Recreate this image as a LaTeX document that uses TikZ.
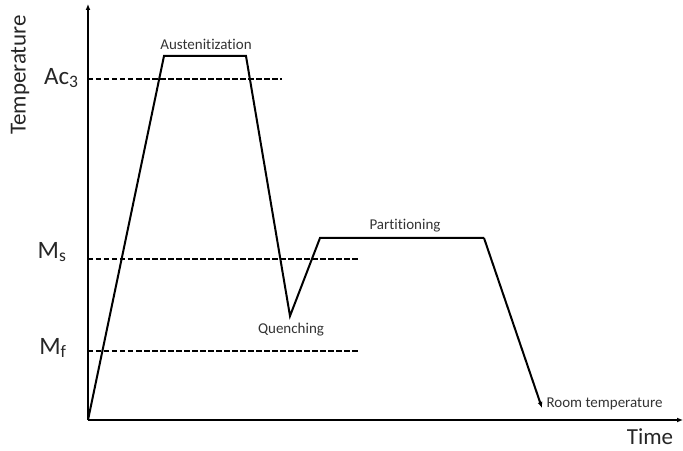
\documentclass[tikz,border=0pt]{standalone}
\usepackage{fontspec}
\setmainfont{Carlito}[Ligatures=NoCommon]
\usetikzlibrary{arrows.meta}
\begin{document}
\begin{tikzpicture}[
        x=1pt, y=1pt,
        axis/.style={line width=2pt, -{Latex[length=6pt,width=5pt]}},
        curve/.style={line width=2pt, line join=miter},
        level/.style={line width=1.6pt, dash pattern=on 5.5pt off 2.5pt},
        small/.style={font=\fontsize{15}{17}\selectfont, text=black!80},
        big/.style={font=\fontsize{25}{29}\selectfont, text=black!85}
      ]
      \useasboundingbox (-88,-30) rectangle (595,420);

      % Axes
      \coordinate (origin) at (0,0);
      \coordinate (ytop) at (0,416);
      \coordinate (xend) at (595,0);
      \draw[axis] (origin) -- (ytop);
      \draw[axis] (origin) -- (xend);

      % Critical temperatures
      \coordinate (ac3a) at (0,341);
      \coordinate (ac3b) at (194,341);
      \coordinate (msa) at (0,161);
      \coordinate (msb) at (270,161);
      \coordinate (mfa) at (0,69);
      \coordinate (mfb) at (270,69);
      \draw[level] (ac3a) -- (ac3b);
      \draw[level] (msa) -- (msb);
      \draw[level] (mfa) -- (mfb);

      \node[big, anchor=east] (ac3) at (-6,342) {Ac\textsubscript{3}};
      \node[big, anchor=east] (ms) at (-18,168) {M\textsubscript{s}};
      \node[big, anchor=east] (mf) at (-18,72) {M\textsubscript{f}};

      % Heat treatment route
      \coordinate (heat) at (76,364);
      \coordinate (hold) at (158,364);
      \coordinate (quench) at (202,104);
      \coordinate (part) at (232,182);
      \coordinate (partend) at (396,182);
      \coordinate (room) at (454,12);
      \draw[curve] (origin) -- (heat) -- (hold) -- (quench) -- (part) -- (partend);
      \draw[curve, -{Latex[length=6pt,width=5pt]}] (partend) -- (room);

      % Labels
      \node[small] (aus) at (118,376) {Austenitization};
      \node[small] (quen) at (203,90) {Quenching};
      \node[small] (parti) at (317,194) {Partitioning};
      \node[small, anchor=west] (roomt) at (455,16) {Room temperature};
      \node[font=\fontsize{23}{27}\selectfont, text=black!85] (time) at (562,-17) {Time};
      \node[font=\fontsize{23}{27}\selectfont, text=black!85, rotate=90] (temp) at (-68,345) {Temperature};
    \end{tikzpicture}
\end{document}
